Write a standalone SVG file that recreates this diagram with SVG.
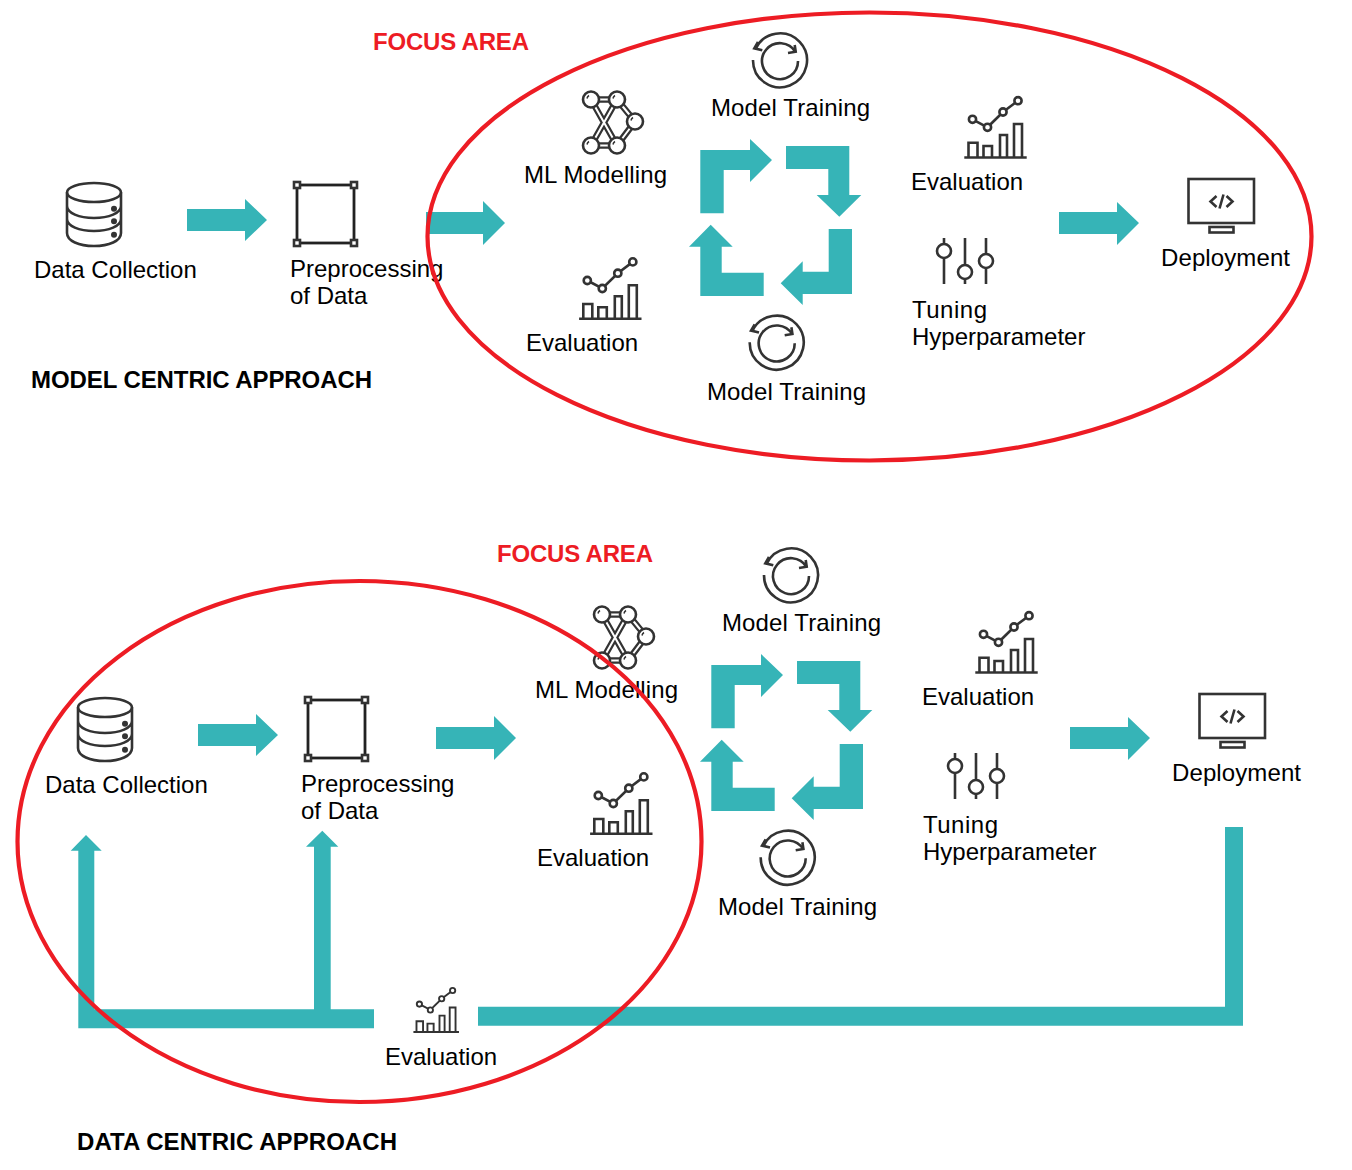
<svg xmlns="http://www.w3.org/2000/svg" width="1352" height="1170" viewBox="0 0 1352 1170">
<style>
text{font-family:"Liberation Sans",Arial,sans-serif;font-size:24px;fill:#000}
.b{font-weight:bold}
.r{font-weight:bold;fill:#ed1c24}
.t{fill:#36b4b7;stroke:none}
.i{fill:none;stroke:#333;stroke-width:2.6}
.w{fill:#fff;stroke:#333;stroke-width:2.6}
.e{fill:none;stroke:#ed1c24;stroke-width:4.2}
</style>
<defs>
<g id="db" class="i">
<ellipse cx="0" cy="-21.500" rx="27" ry="9.500"/>
<path d="M-27-21.500V19C-27 27-15 32 0 32S27 27 27 19V-21.500M-27-8C-27-1-15 4 0 4S27-1 27-8M-27 5C-27 12-15 17 0 17S27 12 27 5"/>
<circle cx="20" cy="-5.300" r="1.700" fill="#333"/><circle cx="20" cy="7.300" r="1.700" fill="#333"/><circle cx="20" cy="20.700" r="1.700" fill="#333"/>
</g>
<g id="sq">
<rect x="-29" y="-29" width="57" height="58" fill="none" stroke="#222" stroke-width="2.800"/>
<g class="w"><rect x="-32" y="-32" width="6" height="6"/><rect x="25" y="-32" width="6" height="6"/><rect x="-32" y="26" width="6" height="6"/><rect x="25" y="26" width="6" height="6"/></g>
</g>
<g id="ev">
<g class="i">
<path d="M-31.200 0H31.200"/>
<path d="M-27 0V-14.700H-18V0M-12 0V-11.500H-3.500V0M4.500 0V-22.500H11.500V0M18.500 0V-33.500H26.500V0"/>
<path d="M-23-38.200L-8-30.200L7.500-45.500L22.500-56.800"/>
</g>
<g class="w"><circle cx="-23" cy="-38.200" r="3.600"/><circle cx="-8" cy="-30.200" r="3.600"/><circle cx="7.500" cy="-45.500" r="3.600"/><circle cx="22.500" cy="-56.800" r="3.600"/></g>
</g>
<g id="tr" class="i">
<path d="M-24.500-12A27 27 0 1 1-27-1"/>
<path d="M15.500-9A18 18 0 1 0 18 0"/>
<path d="M-22-19L-25.700-12.700L-17.700-10.700M8-8L15.700-9.300L14.700-16"/>
</g>
<g id="ml">
<g fill="none" stroke="#333" stroke-width="6.500"><path d="M0 0H26M26 0L44 22M44 22L26 46M0 46H26M0 0L26 46M26 0L0 46"/></g>
<g fill="none" stroke="#fff" stroke-width="2"><path d="M0 0H26M26 0L44 22M44 22L26 46M0 46H26M0 0L26 46M26 0L0 46"/></g>
<g class="w" stroke-width="2.800"><circle cx="0" cy="0" r="8"/><circle cx="26" cy="0" r="8"/><circle cx="44" cy="22" r="8"/><circle cx="0" cy="46" r="8"/><circle cx="26" cy="46" r="8"/></g>
<path fill="none" stroke="#333" stroke-width="1.500" d="M-4-1A4.500 4.500 0 0 1-2-4M22-1A4.500 4.500 0 0 1 24-4M40 21A4.500 4.500 0 0 1 42 18M-4 45A4.500 4.500 0 0 1-2 42M22 45A4.500 4.500 0 0 1 24 42"/>
</g>
<g id="tu">
<path class="i" d="M0-23V23M21-23V23M42-23V23" stroke-width="3"/>
<g class="w"><circle cx="0" cy="-10" r="7"/><circle cx="21" cy="11" r="7"/><circle cx="42" cy="0" r="7"/></g>
</g>
<g id="dp" class="i">
<rect x="0" y="0" width="65.500" height="44"/>
<rect x="21" y="48" width="24" height="5.500"/>
<path d="M28 17L22 22.500L28 28M38 17L44 22.500L38 28M35 15.500L31 29.500"/>
</g>
<path id="ca" d="M700.300 150H750V139L772 160L750 182V170H723.700V213.300H700.300Z"/>
<path id="cb" d="M786 146H849.300V195H861.300L839.300 216.700L816.700 195H828.300V169H786Z"/>
<path id="cc" d="M828.700 229H852V294H802.700V305L780.700 283.300L802.700 261.300V271.700H828.700Z"/>
<path id="cd" d="M763.700 272.700V296H700.300V246.700H689L710.700 224.700L732.700 246.700H721.700V272.700Z"/>
</defs>

<g id="connectors">
<path class="t" d="M187 209H245V199L267 220L245 241V231H187Z"/>
<path class="t" d="M426 212H483V201L505 223L483 245V234H426Z"/>
<path class="t" d="M1059 212H1117V202L1139 223L1117 245V234H1059Z"/>
<use href="#ca" class="t"/><use href="#cb" class="t"/><use href="#cc" class="t"/><use href="#cd" class="t"/>
<path class="t" d="M198 724H256V714L278 735L256 756V746H198Z"/>
<path class="t" d="M436 727H494V716L516 738L494 760V749H436Z"/>
<path class="t" d="M1070 727H1128V717L1150 738L1128 760V749H1070Z"/>
<g transform="translate(11 515)"><use href="#ca" class="t"/><use href="#cb" class="t"/><use href="#cc" class="t"/><use href="#cd" class="t"/></g>
<path class="t" d="M78.300 1028.300V850.700H70.700L86 835L101.700 850.700H94.300V1009.300H314V846.700H306L322.300 830.700L338.300 846.700H330.700V1009.300H374V1028.300Z"/>
<path class="t" d="M478 1006.700H1225V827H1243V1025.700H478Z"/>
</g>

<g id="m-data"><use href="#db" transform="translate(94 214)"/><text x="34" y="278">Data Collection</text></g>
<g id="m-prep"><use href="#sq" transform="translate(326 214)"/><text x="290" y="277">Preprocessing</text><text x="290" y="304">of Data</text></g>
<g id="m-ml"><use href="#ml" transform="translate(591 99.500)"/><text x="524" y="183" textLength="143">ML Modelling</text></g>
<g id="m-train1"><use href="#tr" transform="translate(780 61)"/><text x="711" y="116" textLength="159">Model Training</text></g>
<g id="m-eval1"><use href="#ev" transform="translate(995.500 157.500)"/><text x="911" y="190">Evaluation</text></g>
<g id="m-tune"><use href="#tu" transform="translate(944 261)"/><text x="912" y="318" textLength="75">Tuning</text><text x="912" y="345">Hyperparameter</text></g>
<g id="m-deploy"><use href="#dp" transform="translate(1188.500 179)"/><text x="1161" y="266" textLength="129">Deployment</text></g>
<g id="m-eval2"><use href="#ev" transform="translate(610.300 318.700)"/><text x="526" y="351">Evaluation</text></g>
<g id="m-train2"><use href="#tr" transform="translate(776.700 343.300)"/><text x="707" y="400" textLength="159">Model Training</text></g>

<g id="d-data"><use href="#db" transform="translate(105 729)"/><text x="45" y="793">Data Collection</text></g>
<g id="d-prep"><use href="#sq" transform="translate(337 729)"/><text x="301" y="792">Preprocessing</text><text x="301" y="819">of Data</text></g>
<g id="d-ml"><use href="#ml" transform="translate(602 614.500)"/><text x="535" y="698" textLength="143">ML Modelling</text></g>
<g id="d-train1"><use href="#tr" transform="translate(791 576)"/><text x="722" y="631" textLength="159">Model Training</text></g>
<g id="d-eval1"><use href="#ev" transform="translate(1006.500 672.500)"/><text x="922" y="705">Evaluation</text></g>
<g id="d-tune"><use href="#tu" transform="translate(955 776)"/><text x="923" y="833" textLength="75">Tuning</text><text x="923" y="860">Hyperparameter</text></g>
<g id="d-deploy"><use href="#dp" transform="translate(1199.500 694)"/><text x="1172" y="781" textLength="129">Deployment</text></g>
<g id="d-eval2"><use href="#ev" transform="translate(621.300 833.700)"/><text x="537" y="866">Evaluation</text></g>
<g id="d-train2"><use href="#tr" transform="translate(787.700 858.300)"/><text x="718" y="915" textLength="159">Model Training</text></g>
<g id="d-eval3"><use href="#ev" transform="translate(436.200 1032) scale(.73)"/><text x="385" y="1065">Evaluation</text></g>

<g id="focus-model"><ellipse class="e" cx="869.500" cy="236.500" rx="442" ry="224"/><text class="r" x="373" y="50" textLength="156">FOCUS AREA</text></g>
<g id="focus-data"><ellipse class="e" cx="359.500" cy="841.500" rx="342" ry="260.500"/><text class="r" x="497" y="562" textLength="156">FOCUS AREA</text></g>
<text class="b" x="31" y="388" textLength="341">MODEL CENTRIC APPROACH</text>
<text class="b" x="77" y="1150" textLength="320">DATA CENTRIC APPROACH</text>
</svg>
